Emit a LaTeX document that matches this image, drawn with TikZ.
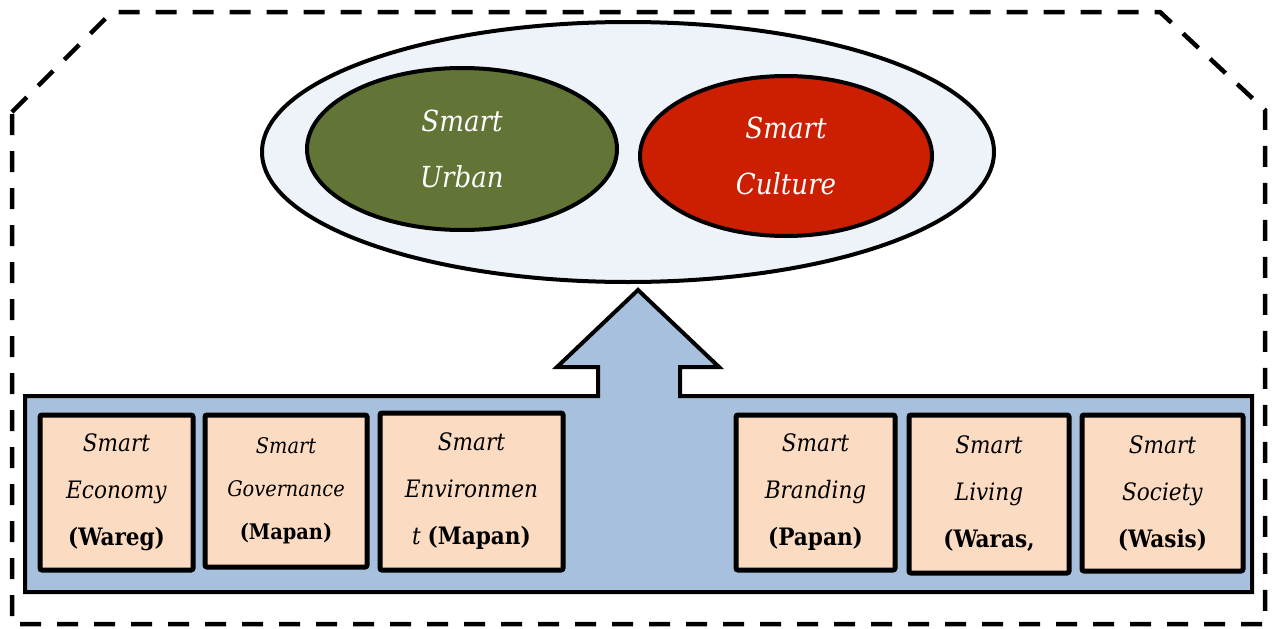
\documentclass[tikz,border=0pt]{standalone}
\usepackage{fontspec}
\setmainfont{DejaVu Serif Condensed}
\usetikzlibrary{shapes.geometric}
\definecolor{hubfill}{HTML}{EEF3F9}
\definecolor{urbangreen}{HTML}{627436}
\definecolor{culturered}{HTML}{CC1E00}
\definecolor{basefill}{HTML}{A6C0DE}
\definecolor{pillarfill}{HTML}{FBDCC2}
\tikzset{
  x=1pt, y=-1pt,
  frame/.style={line width=4.5pt, dash pattern=on 21pt off 16pt},
  blob/.style={ellipse, draw=black, line width=4pt, inner sep=0pt},
  inner/.style={blob, text=white, align=center,
    font=\fontsize{29}{56}\selectfont\itshape},
  pillar/.style={draw=black, fill=pillarfill, line width=5pt, rounded corners=2pt,
    inner sep=0pt, align=center, anchor=north west,
    font=\fontsize{24}{47}\selectfont},
}
\begin{document}
\begin{tikzpicture}
\useasboundingbox (0,0) rectangle (1277,629);

% dashed outer frame with chamfered top corners
\draw[frame] (12,112) -- (112,12) -- (1160,12) -- (1265,110) -- (1265,624) -- (12,624) -- cycle;

% hub ellipse holding the two targets
\node[blob, fill=hubfill, minimum width=732, minimum height=260] (hub) at (628,152) {};
\node[inner, fill=urbangreen, minimum width=310, minimum height=162] (urban) at (462,149)
  {Smart\\Urban};
\node[inner, fill=culturered, minimum width=292, minimum height=160] (culture) at (786,156)
  {Smart\\Culture};

% base platform merged with the upward arrow
\draw[line width=4pt, fill=basefill, line join=miter]
  (25,396) -- (598,396) -- (598,367) -- (557,367) -- (638,290) -- (719,367)
  -- (680,367) -- (680,396) -- (1252,396) -- (1252,592) -- (25,592) -- cycle;

% the six pillars
\node[pillar, minimum width=153, minimum height=155] (economy) at (37.5,412.5)
  {\textit{Smart}\\\textit{Economy}\\\textbf{(Wareg)}};
\node[pillar, minimum width=162, minimum height=152,
  font=\fontsize{21.5}{43}\selectfont] (governance) at (202.5,412.5)
  {\textit{Smart}\\\textit{Governance}\\\textbf{(Mapan)}};
\node[pillar, minimum width=183, minimum height=157] (environment) at (377.5,410.5)
  {\textit{Smart}\\\textit{Environmen}\\\textit{t} \textbf{(Mapan)}};
\node[pillar, minimum width=159, minimum height=155] (branding) at (733.5,412.5)
  {\textit{Smart}\\\textit{Branding}\\\textbf{(Papan)}};
\node[pillar, minimum width=160, minimum height=158] (living) at (906.5,412.5)
  {\textit{Smart}\\\textit{Living}\\\textbf{(Waras,}};
\node[pillar, minimum width=161, minimum height=156] (society) at (1079.5,412.5)
  {\textit{Smart}\\\textit{Society}\\\textbf{(Wasis)}};
\end{tikzpicture}
\end{document}
